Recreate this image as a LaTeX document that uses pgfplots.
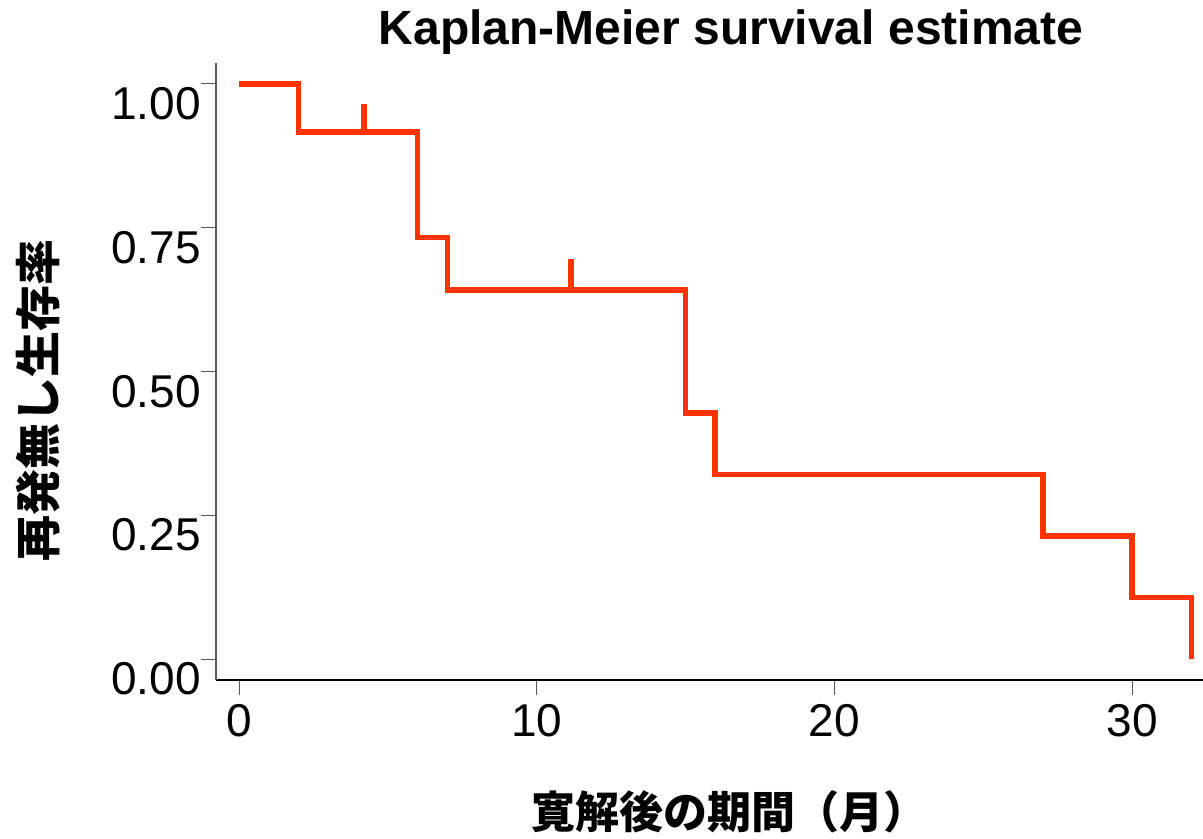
\documentclass[border=0pt]{standalone}
\usepackage{fontspec}
\setmainfont{Liberation Sans}
\newfontfamily\cjk{Noto Sans CJK JP}
\usepackage{pgfplots}
\pgfplotsset{compat=1.18}
\definecolor{kmred}{RGB}{255,51,0}
\begin{document}
\begin{tikzpicture}
\begin{axis}[
  at={(0,0)}, anchor=south west,
  scale only axis,
  width=493.5pt, height=308.5pt,
  xmin=-0.773, xmax=32.385,
  ymin=-0.0365, ymax=1.0365,
  axis x line*=bottom, axis y line*=left,
  x axis line style={-, black, line width=0.7pt},
  y axis line style={-, black!65, line width=0.7pt},
  xtick={0,10,20,30},
  ytick={0,0.25,0.5,0.75,1},
  yticklabels={0.00,0.25,0.50,0.75,1.00},
  tick align=outside,
  major tick length=7.5pt,
  tick style={black!65, line width=0.5pt},
  /pgf/number format/assume math mode=true,
  tick label style={font=\fontsize{23}{23}\selectfont},
  yticklabel style={anchor=north east, inner sep=0pt, yshift=-1.5pt},
  xticklabel style={anchor=north, inner sep=0pt, yshift=-4.5pt},
  title={Kaplan-Meier survival estimate},
  title style={font=\fontsize{24}{24}\selectfont\bfseries, at={(axis description cs:0.5218,1.0113)}, anchor=base, inner sep=0pt, yshift=0pt},
  xlabel={\cjk\bfseries 寛解後の期間（月）},
  xlabel style={font=\fontsize{22}{22}\selectfont, at={(axis description cs:0.5198,-0.2139)}, anchor=center, inner sep=0pt},
  ylabel={\cjk\bfseries 再発無し生存率},
  ylabel style={font=\fontsize{23}{23}\selectfont, at={(axis description cs:-0.1798,0.4538)}, anchor=center, rotate=0, inner sep=0pt},
  clip=false,
]
\addplot[const plot, kmred, line width=2.8pt] coordinates {
  (0,1.0) (2,0.9167) (6,0.7333) (7,0.6417) (15,0.4278) (16,0.3208) (27,0.2139) (30,0.1069) (32,0.0)
};
\addplot[kmred, line width=2.8pt] coordinates {(4.2,0.9167) (4.2,0.965)};
\addplot[kmred, line width=2.8pt] coordinates {(11.15,0.6417) (11.15,0.6957)};
\end{axis}
\pgfresetboundingbox
\path[use as bounding box] (-108pt,-79.5pt) rectangle (493.5pt,340pt);
\end{tikzpicture}
\end{document}
